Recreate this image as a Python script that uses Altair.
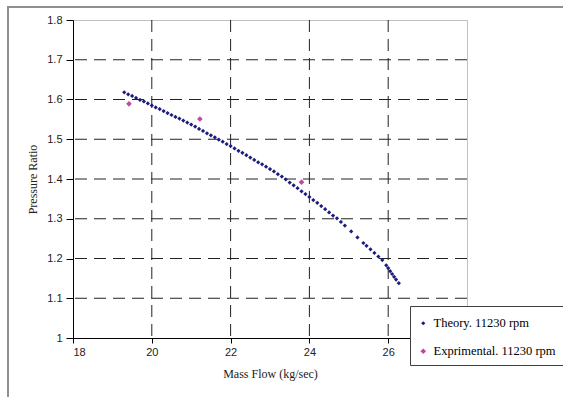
import altair as alt
import pandas as pd

# ---- data ----
theory_x = [19.3, 19.4, 19.5, 19.6, 19.7, 19.8, 19.9, 20.0, 20.1, 20.2, 20.3, 20.4,
            20.5, 20.6, 20.7, 20.8, 20.9, 21.0, 21.1, 21.2, 21.3, 21.4, 21.5, 21.6,
            21.7, 21.8, 21.9, 22.0, 22.1, 22.2, 22.3, 22.4, 22.5, 22.6, 22.7, 22.8,
            22.9, 23.0, 23.1, 23.2, 23.3, 23.4, 23.5, 23.6, 23.7, 23.8, 23.9, 24.0,
            24.1, 24.2, 24.3, 24.4, 24.5, 24.6, 24.7, 24.8, 24.9, 25.06, 25.22, 25.37,
            25.45, 25.55, 25.65, 25.75, 25.85, 25.95, 26.0, 26.05, 26.1, 26.15, 26.2, 26.27]
theory_y = [1.618, 1.613, 1.609, 1.604, 1.599, 1.595, 1.590, 1.585, 1.580, 1.576, 1.571, 1.566,
            1.561, 1.556, 1.552, 1.547, 1.542, 1.537, 1.532, 1.526, 1.521, 1.515, 1.510, 1.505,
            1.499, 1.494, 1.488, 1.483, 1.477, 1.471, 1.466, 1.460, 1.454, 1.448, 1.442, 1.437,
            1.431, 1.425, 1.419, 1.412, 1.406, 1.399, 1.391, 1.384, 1.377, 1.369, 1.362, 1.355,
            1.347, 1.340, 1.332, 1.324, 1.316, 1.308, 1.301, 1.292, 1.283, 1.268, 1.253, 1.239,
            1.232, 1.223, 1.214, 1.205, 1.196, 1.183, 1.176, 1.168, 1.161, 1.154, 1.147, 1.138]
exp_x = [19.42, 21.22, 23.80]
exp_y = [1.589, 1.551, 1.392]
series_names = ["Theory. 11230 rpm", "Exprimental. 11230 rpm"]
series_colors = ["#1c1c7e", "#c0489e"]

x_ticks = [18, 20, 22, 24, 26]
y_ticks = [1.0, 1.1, 1.2, 1.3, 1.4, 1.5, 1.6, 1.7, 1.8]
grid_x = [20, 22, 24, 26]
grid_y = [1.1, 1.2, 1.3, 1.4, 1.5, 1.6, 1.7]

# ---- tables ----
df = pd.DataFrame({
    "x": theory_x + exp_x,
    "y": theory_y + exp_y,
    "series": [series_names[0]] * len(theory_x) + [series_names[1]] * len(exp_x),
})
gx = pd.DataFrame({"x": grid_x})
gy = pd.DataFrame({"y": grid_y})

xscale = alt.Scale(domain=[18, 28], nice=False, zero=False)
yscale = alt.Scale(domain=[1.0, 1.8], nice=False, zero=False)

xaxis = alt.Axis(values=x_ticks, grid=False, domainColor="black", domainWidth=1,
                 tickColor="black", tickSize=5, labelFont="Liberation Sans", labelFontSize=11,
                 labelColor="#222222", labelPadding=3, title="Mass Flow (kg/sec)",
                 titleFont="Liberation Serif", titleFontSize=12, titleFontWeight="normal",
                 titleColor="#222222", titlePadding=11)
yaxis = alt.Axis(values=y_ticks, grid=False, format=".1~f", domainColor="black", domainWidth=1,
                 tickColor="black", tickSize=7, labelFont="Liberation Sans", labelFontSize=11,
                 labelColor="#222222", labelPadding=4, title="Pressure Ratio",
                 titleFont="Liberation Serif", titleFontSize=12, titleFontWeight="normal",
                 titleColor="#222222", titlePadding=7)

X = alt.X("x:Q", scale=xscale, axis=xaxis)
Y = alt.Y("y:Q", scale=yscale, axis=yaxis)

frame = alt.Chart(pd.DataFrame({"k": [0]})).mark_rect(
    fill="transparent", stroke="#8f8f8f", strokeWidth=2, clip=False
).encode(x=alt.value(-65), x2=alt.value(700), y=alt.value(-13), y2=alt.value(500))

vgrid = alt.Chart(gx).mark_rule(stroke="#222222", strokeWidth=1, strokeDash=[12, 7]).encode(x=X)
hgrid = alt.Chart(gy).mark_rule(stroke="#222222", strokeWidth=1, strokeDash=[12, 7]).encode(y=Y)

legend = alt.Legend(orient="none", legendX=337, legendY=286, title=" ",
                    titleFontSize=4, titlePadding=0,
                    strokeColor="#404040", fillColor="white", padding=7, rowPadding=15,
                    labelFont="Liberation Serif", labelFontSize=12.5, labelColor="black",
                    symbolType="diamond", symbolStrokeWidth=0, labelOffset=4)

points = alt.Chart(df).mark_point(shape="diamond", filled=True, opacity=1).encode(
    x=X, y=Y,
    color=alt.Color("series:N", scale=alt.Scale(domain=series_names, range=series_colors), legend=legend),
    size=alt.Size("series:N", scale=alt.Scale(domain=series_names, range=[18, 32]), legend=legend),
)

chart = alt.layer(frame, vgrid, hgrid, points).properties(
    width=394, height=318,
    padding={"left": 73, "top": 20, "right": 96, "bottom": 59},
    autosize=alt.AutoSizeParams(type="none"),
    background="white",
).configure_view(stroke="#c0c0c0", strokeWidth=1)

chart.save("out.html", embed_options={"renderer": "svg", "actions": False})
